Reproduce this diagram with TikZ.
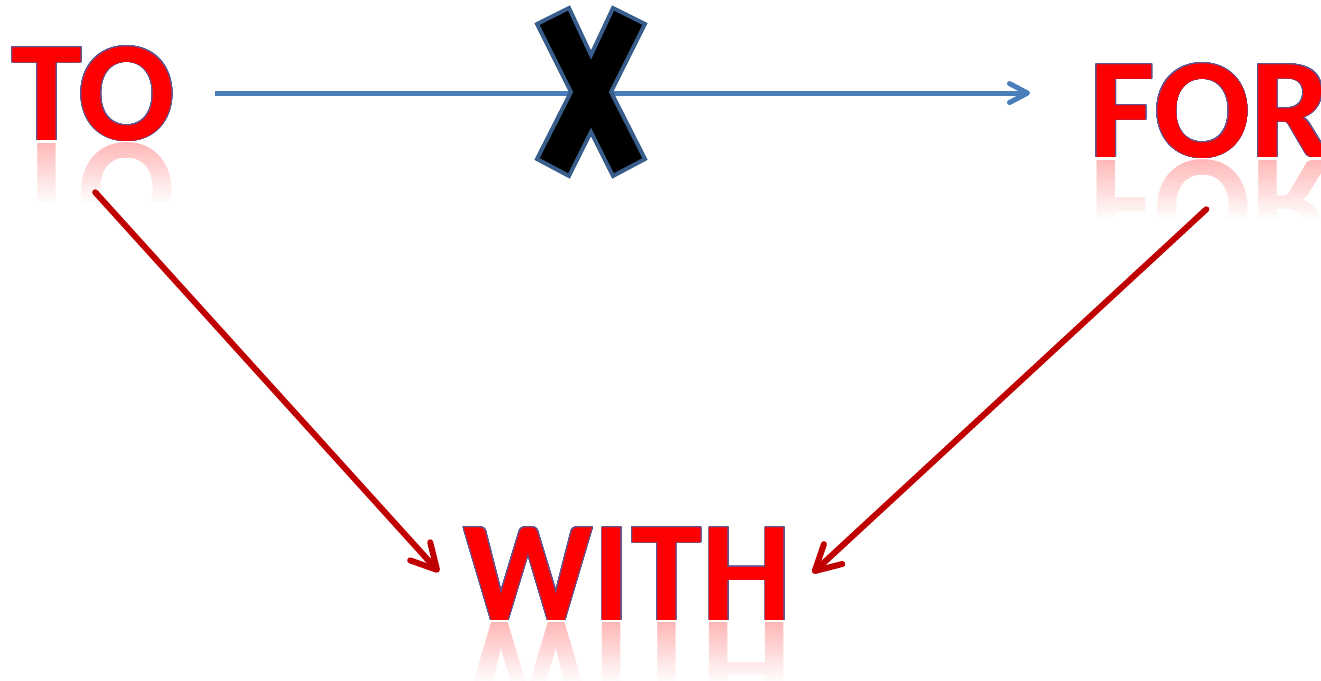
\documentclass[tikz,border=0pt]{standalone}
\usepackage{fontspec}
\setmainfont{Carlito}
\usepackage{graphicx}
\usepackage{contour}
\contourlength{0.45pt}
\contournumber{24}
\usetikzlibrary{arrows.meta,positioning,calc}
\definecolor{wordred}{RGB}{255,0,0}
\definecolor{wordedge}{RGB}{95,85,145}
\definecolor{linkblue}{RGB}{74,126,187}
\definecolor{linkred}{RGB}{192,0,0}
\definecolor{crossedge}{RGB}{56,93,138}
\newcommand{\bigword}[1]{\contour{wordedge}{#1}}
\newcommand{\flipword}[1]{\scalebox{1}[-1]{#1}}

\begin{document}
\begin{tikzpicture}[x=0.5pt, y=-0.5pt,
  word/.style={inner sep=0pt, anchor=base west, text=wordred,
    font=\fontsize{71.5}{80}\selectfont\bfseries},
  mirror/.style={inner sep=0pt, anchor=north west,
    font=\fontsize{71.5}{80}\selectfont\bfseries},
  blueline/.style={draw=linkblue, line width=2.5pt,
    -{Straight Barb[round, length=9pt, width=9.5pt]}},
  redline/.style={draw=linkred, line width=3pt, line cap=round,
    -{Straight Barb[round, length=12.5pt, width=13.5pt]}},
  crossmark/.style={fill=black, draw=crossedge, line width=2pt, line join=miter}]
\useasboundingbox (0,0) rectangle (1321,680);
% faded reflections, strip by strip
\foreach \w/\lab/\bx/\by in {to/TO/11/140, for/FOR/1089/157, with/WITH/463/620}{
  \foreach \k in {0,...,14}{
    \pgfmathsetmacro{\fade}{28-1.85*\k}
    \begin{scope}
      \clip (\bx-5,\by+1+4*\k) rectangle (\bx+340,\by+5.5+4*\k);
      \node[mirror, text=wordred!\fade] (\w ref\k) at (\bx,\by+2) {\flipword{\lab}};
    \end{scope}
  }
}
% the three words
\node[word] (to) at (11,140) {\bigword{TO}};
\node[word] (for) at (1089,157) {\bigword{FOR}};
\node[word] (with) at (463,620) {\bigword{WITH}};
% crossed-out link
\draw[blueline] ($(to.east)+(40,-1)$) -- ($(to.east -| for.west)+(-59,-1)$);
\coordinate (cross) at (591,92);
\draw[crossmark, shift={(cross)}] (-54,-68) -- (-22,-84) -- (0,-37) -- (22,-84)
  -- (54,-68) -- (20,0) -- (54,67) -- (22,84) -- (0,40) -- (-22,84)
  -- (-54,67) -- (-20,0) -- cycle;
% the two links that work
\draw[redline] ($(to.south)+(2,50)$) -- ($(with.west)+(-24,-2)$);
\draw[redline] ($(for.south)+(-4,50)$) -- ($(with.east)+(20,-1)$);
\end{tikzpicture}
\end{document}
